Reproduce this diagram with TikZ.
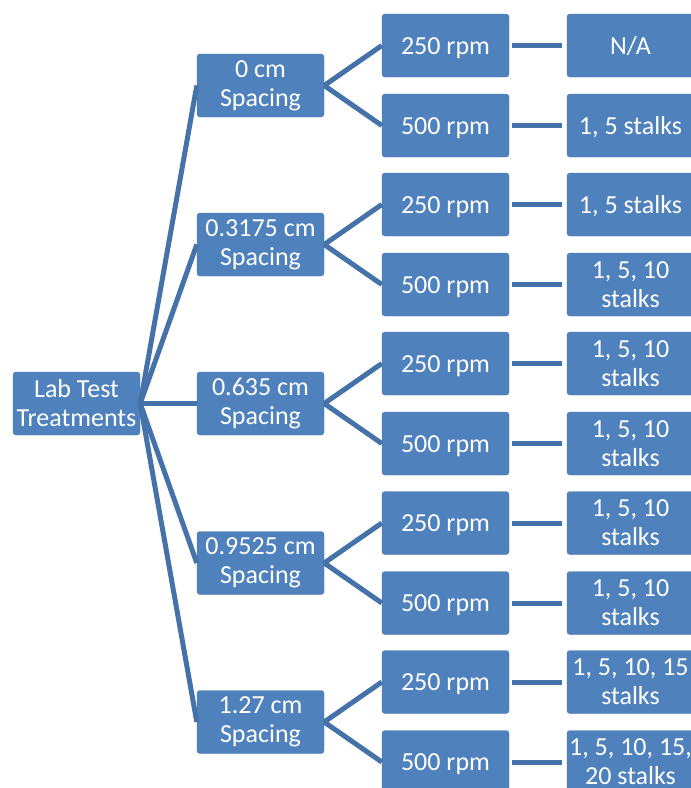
\documentclass[tikz,border=0pt]{standalone}
\usepackage{fontspec}
\setmainfont{Carlito}
\definecolor{boxblue}{HTML}{4F81BD}
\definecolor{lineblue}{HTML}{4672AA}
\tikzset{
  box/.style={rectangle,rounded corners=3pt,fill=boxblue,draw=boxblue!92!black,
    text=white,minimum width=127pt,minimum height=63pt,inner sep=0pt,
    align=center,font=\fontsize{26}{29}\selectfont},
  oneline/.style={text height=17pt,text depth=0pt},
  link/.style={draw=lineblue,line width=5pt}
}
\begin{document}
\begin{tikzpicture}[x=1pt,y=-1pt]
  % page frame (right column and bottom row are cut off)
  \useasboundingbox (0,0) rectangle (691,788);
  \clip (0,0) rectangle (691,788);
  % root
  \node[box] (root) at (76.5,403.5) {Lab Test\\Treatments};
  % spacing + speed levels
  \foreach \i/\y/\gap in {1/85.5/0 cm,2/244.5/0.3175 cm,3/403.5/0.635 cm,4/563/0.9525 cm,5/722/1.27 cm}{
    \node[box] (s\i) at (260.5,\y) {\gap\\Spacing};
    \node[box,oneline] (r\i a) at (445.5,\y-40) {250 rpm};
    \node[box,oneline] (r\i b) at (445.5,\y+40) {500 rpm};
    \draw[link] (root.east) -- (s\i.west);
    \draw[link] (s\i.east) -- (r\i a.west);
    \draw[link] (s\i.east) -- (r\i b.west);
  }
  % stalk counts
  \node[box,oneline] (t1a) at (630.5,45.5) {N/A};
  \node[box,oneline] (t1b) at (630.5,125.5) {1, 5 stalks};
  \node[box,oneline] (t2a) at (630.5,204.5) {1, 5 stalks};
  \node[box] (t2b) at (630.5,284.5) {1, 5, 10\\stalks};
  \node[box] (t3a) at (630.5,363.5) {1, 5, 10\\stalks};
  \node[box] (t3b) at (630.5,443.5) {1, 5, 10\\stalks};
  \node[box] (t4a) at (630.5,523) {1, 5, 10\\stalks};
  \node[box] (t4b) at (630.5,603) {1, 5, 10\\stalks};
  \node[box] (t5a) at (630.5,682) {1, 5, 10, 15\\stalks};
  \node[box] (t5b) at (630.5,762) {1, 5, 10, 15,\\20 stalks};
  \foreach \i in {1,...,5}{
    \draw[link] ([xshift=3pt]r\i a.east) -- ([xshift=-5pt]t\i a.west);
    \draw[link] ([xshift=3pt]r\i b.east) -- ([xshift=-5pt]t\i b.west);
  }
\end{tikzpicture}
\end{document}
